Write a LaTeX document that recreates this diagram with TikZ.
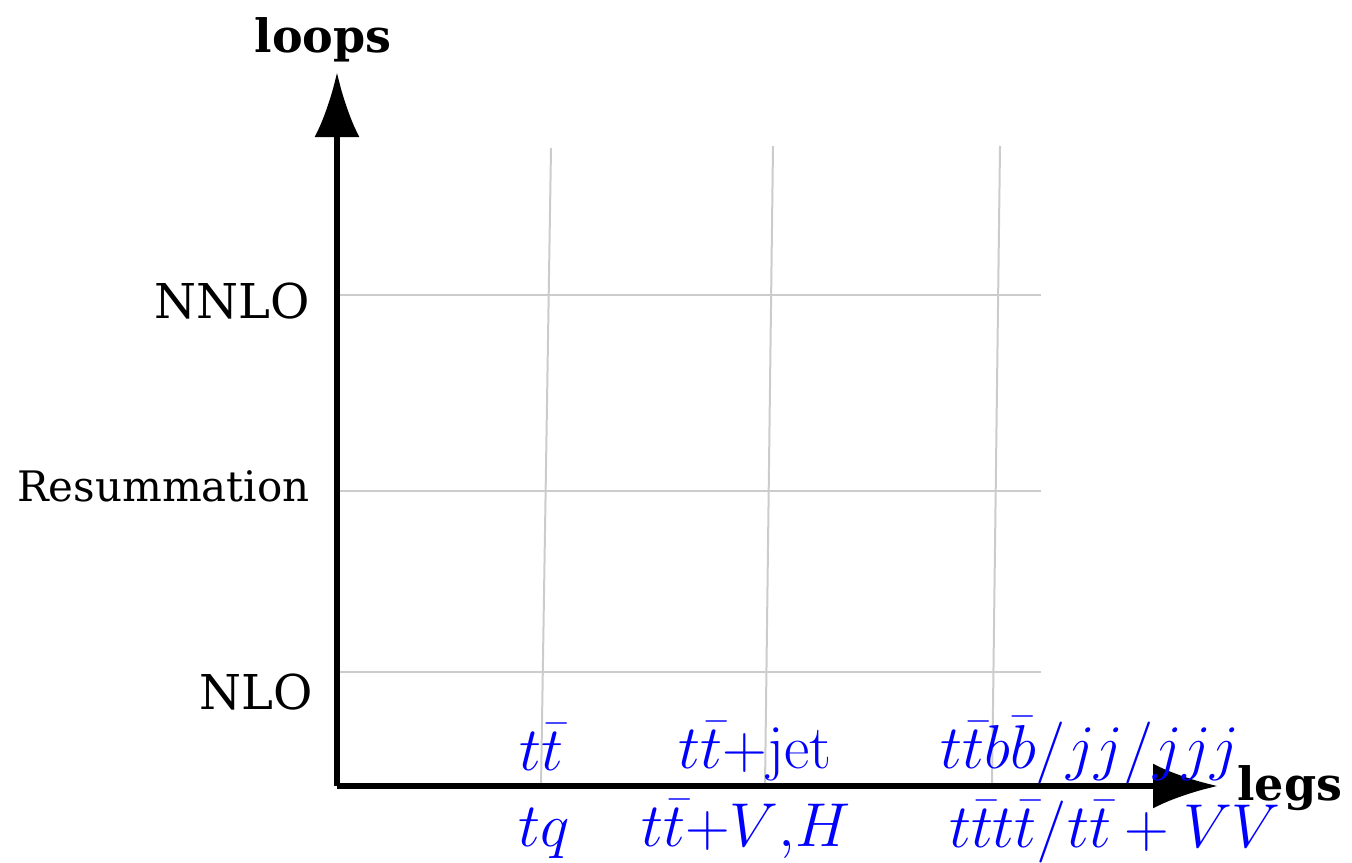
\RequirePackage{fix-cm}
\documentclass[tikz,border=0pt]{standalone}
\usepackage[no-math]{fontspec}
\setmainfont{DejaVu Serif}
\usepackage{amsmath}
\usepackage{tikz}
\usetikzlibrary{arrows.meta}
\usetikzlibrary{positioning}
\usepackage{xcolor}

\begin{document}
\begin{tikzpicture}[x=0.5pt,y=-0.5pt,
  axis/.style={line width=3pt,-{Latex[length=32.5pt,width=22.5pt]}},
  gridline/.style={line width=1pt,black!20},
  order/.style={inner sep=0pt,anchor=base east,font=\fontsize{24}{28}\selectfont},
  axlabel/.style={inner sep=0pt,font=\fontsize{23}{27}\selectfont\bfseries},
  proc/.style={inner sep=0pt,anchor=base,blue,font=\fontsize{31}{37}\selectfont}]

\useasboundingbox (0,0) rectangle (1352,862);

% grid
\draw[gridline] (340,295)--(1041,295);
\draw[gridline] (340,491)--(1041,491);
\draw[gridline] (340,672)--(1041,672);
\draw[gridline] (551,148)--(541,786);
\draw[gridline] (773,146)--(765,786);
\draw[gridline] (1000,146)--(992,786);

% axes
\coordinate (origin) at (337,786);
\coordinate (ytip) at (337,72);
\coordinate (xtip) at (1218,786);
\draw[axis] (origin)--(ytip);
\draw[axis] (origin)--(xtip);

\node[axlabel,anchor=base] (loops) at (323,52) {loops};
\node[axlabel,anchor=base west] (legs) at (1237,800) {legs};

\node[order] (nnlo) at (310,318) {NNLO};
\node[order,font=\fontsize{21}{25}\selectfont] (resum) at (310,501) {Resummation};
\node[order] (nlo) at (313,709) {NLO};

\node[proc] (tt) at (541,770) {$t\bar{t}$};
\node[proc] (tq) at (544,846) {$tq$};
\node[proc] (ttjet) at (755,768) {$t\bar{t}{+}\mathrm{jet}$};
\node[proc] (ttvh) at (746,846) {$t\bar{t}{+}V{,}H$};
\node[proc] (ttbb) at (1090,768) {$t\bar{t}b\bar{b}/jj/jjj$};
\node[proc] (tttt) at (1115,847) {$t\bar{t}t\bar{t}/t\bar{t}+VV$};

\end{tikzpicture}
\end{document}
